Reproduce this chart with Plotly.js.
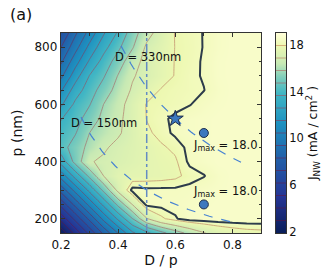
<!DOCTYPE html>
<html><head><meta charset="utf-8">
<script src="https://cdn.plot.ly/plotly-3.0.1.min.js"></script>
<style>html,body{margin:0;padding:0;background:#fff}#chart{width:332px;height:275px}</style>
</head><body><div id="chart"></div>
<script>
// D/p ratio (x) and period p in nm (y)
const DP = [0.2,0.25,0.3,0.35,0.4,0.45,0.5,0.55,0.6,0.65,0.7,0.75,0.8,0.85,0.9];
const P  = [150,200,250,300,350,400,450,500,550,600,650,700,750,800,850];
// J_NW (mA/cm^2) per row of p
const J_p150 = [2.2,4.4,6.5,8.6,10.5,12.4,13.4,14.4,15.3,16.1,16.8,17.3,17.55,17.7,17.75];
const J_p200 = [4.4,6.5,8.6,10.8,12.8,14.7,16.8,17.8,18.25,18.55,18.6,18.6,18.6,18.6,18.6];
const J_p250 = [6.5,8.65,10.8,12.9,15.0,16.9,18.45,18.45,18.45,18.5,18.55,18.6,18.6,18.6,18.6];
const J_p300 = [8.7,10.8,12.9,15.0,17.15,18.45,18.4,18.4,18.4,18.45,18.5,18.55,18.6,18.6,18.6];
const J_p350 = [10.9,13.0,15.0,16.9,17.5,17.6,17.65,17.7,17.8,18.1,18.28,18.5,18.6,18.6,18.6];
const J_p400 = [13.0,15.1,16.8,17.0,17.2,17.4,17.6,17.75,17.85,18.4,18.5,18.6,18.6,18.6,18.6];
const J_p450 = [14.3,15.2,16.1,16.74,17.1,17.35,17.6,17.85,18.05,18.45,18.55,18.6,18.6,18.6,18.6];
const J_p500 = [14.0,14.65,15.8,16.28,16.74,17.27,17.82,18.1,18.4,18.5,18.55,18.6,18.6,18.6,18.6];
const J_p550 = [13.6,14.3,15.21,16.09,16.65,17.29,17.95,18.2,18.4,18.5,18.55,18.6,18.6,18.6,18.6];
const J_p600 = [12.4,13.9,14.67,15.82,16.52,17.27,17.98,18.05,18.15,18.28,18.45,18.55,18.6,18.6,18.6];
const J_p650 = [11.4,13.1,14.23,15.22,16.22,16.98,17.57,17.98,18.1,18.2,18.29,18.5,18.6,18.6,18.6];
const J_p700 = [10.2,12.1,13.7,14.64,15.85,16.77,17.21,17.6,17.97,18.22,18.33,18.55,18.6,18.6,18.6];
const J_p750 = [9.2,11.08,12.74,14.09,15.23,16.49,17.16,17.6,17.96,18.15,18.35,18.55,18.6,18.6,18.6];
const J_p800 = [8.3,10.05,11.83,13.3,14.5,15.7,17.05,17.5,17.95,18.12,18.32,18.5,18.6,18.6,18.6];
const J_p850 = [7.3,9.2,10.85,12.5,13.8,15.3,16.5,17.3,17.97,18.15,18.32,18.5,18.6,18.6,18.6];

const J_MIN = 1.9, J_MAX = 19.0, LEVEL_STEP = 1.06875;
const OPT_LEVEL = 18.3;              // thick contour
const CB_TICKS = [2,6,10,14,18];

const D_VALUES = [150, 330];          // constant-D curves (nm)
const D_RATIO_START = [0.27, 0.41];
const D_RATIO_END = [0.82, 0.83];
const VLINE_X = [0.5];

const STAR_X = [0.6], STAR_P = [550];
const DOT_X = [0.7, 0.7], DOT_P = [500, 250];
const DOT_LABELS = ['J<sub>max</sub> = 18.0', 'J<sub>max</sub> = 18.0'];
const DOT_LABEL_X = [0.775, 0.775], DOT_LABEL_P = [457, 296];
const D_LABELS = ['D = 150nm', 'D = 330nm'];
const D_LABEL_X = [0.351, 0.503], D_LABEL_P = [535, 765];

const Z = [J_p150,J_p200,J_p250,J_p300,J_p350,J_p400,J_p450,J_p500,J_p550,J_p600,J_p650,J_p700,J_p750,J_p800,J_p850];

const cmap = [
  [0,'rgb(8,29,88)'],[0.18,'rgb(37,52,148)'],[0.37,'rgb(34,94,168)'],
  [0.55,'rgb(29,145,192)'],[0.7,'rgb(65,182,196)'],[0.78,'rgb(127,205,187)'],
  [0.85,'rgb(199,233,180)'],[0.94,'rgb(237,248,177)'],[1,'rgb(255,255,217)']
];
const lineMap = [[0,'rgb(80,20,70)'],[0.45,'rgb(100,50,100)'],[0.75,'rgb(150,100,110)'],[1,'rgb(205,145,100)']];

const F = 'DejaVu Sans, sans-serif';
const traces = [];
traces.push({type:'heatmap', x:DP, y:P, z:Z, zmin:J_MIN, zmax:J_MAX, colorscale:cmap,
  zsmooth:'best', showscale:false, hoverinfo:'skip'});
traces.push({type:'contour', x:DP, y:P, z:Z, zmin:J_MIN, zmax:J_MAX, colorscale:lineMap,
  showscale:false, opacity:0.85, contours:{coloring:'lines', start:J_MIN, end:J_MAX, size:LEVEL_STEP},
  line:{width:0.8, smoothing:0}, hoverinfo:'skip'});
traces.push({type:'contour', x:DP, y:P, z:Z, showscale:false,
  contours:{coloring:'none', start:OPT_LEVEL, end:OPT_LEVEL, size:0.1},
  line:{width:2, color:'rgb(45,60,75)', smoothing:0}, hoverinfo:'skip'});
// constant-D dashed curves
D_VALUES.forEach((D,i)=>{
  const xs=[], ys=[];
  const n=60;
  for(let k=0;k<=n;k++){const r=D_RATIO_START[i]+(D_RATIO_END[i]-D_RATIO_START[i])*k/n; xs.push(r); ys.push(D/r);}
  traces.push({type:'scatter', mode:'lines', x:xs, y:ys, line:{color:'rgb(70,130,210)', width:1.2, dash:'dash'}, hoverinfo:'skip'});
});
traces.push({type:'scatter', mode:'lines', x:[VLINE_X[0],VLINE_X[0]], y:[P[0],P[P.length-1]],
  line:{color:'rgb(100,140,195)', width:1.5, dash:'dashdot'}, hoverinfo:'skip'});
traces.push({type:'scatter', mode:'markers', x:DOT_X, y:DOT_P,
  marker:{symbol:'circle', size:9, color:'rgb(60,120,190)', line:{color:'rgb(30,45,75)', width:1}}});
traces.push({type:'scatter', mode:'markers', x:STAR_X, y:STAR_P,
  marker:{symbol:'star', size:12, color:'rgb(60,120,190)', line:{color:'rgb(30,45,75)', width:1}}});
// colorbar drawn on its own axes
const CB_Y = [J_MIN, J_MAX];
traces.push({type:'heatmap', xaxis:'x2', yaxis:'y2', x:[0,1], y:CB_Y, z:[[J_MIN,J_MIN],[J_MAX,J_MAX]],
  zmin:J_MIN, zmax:J_MAX, colorscale:cmap, zsmooth:'best', showscale:false, hoverinfo:'skip'});
traces.push({type:'contour', xaxis:'x2', yaxis:'y2', x:[0,1], y:CB_Y, z:[[J_MIN,J_MIN],[J_MAX,J_MAX]],
  zmin:J_MIN, zmax:J_MAX, colorscale:lineMap, showscale:false, opacity:0.85,
  contours:{coloring:'lines', start:J_MIN+LEVEL_STEP, end:J_MAX-0.01, size:LEVEL_STEP},
  line:{width:0.8, smoothing:0}, hoverinfo:'skip'});

const W=332, H=275, L=61, R=46, T=33, B=42;
const plotW = W-L-R;
const mainFrac = 200/plotW;
const cbX0 = 215/plotW, cbX1 = 225/plotW;

const annotations = [];
D_LABELS.forEach((t,i)=>annotations.push({x:D_LABEL_X[i], y:D_LABEL_P[i], text:t, showarrow:false, font:{family:F,size:11.5,color:'#111'}}));
DOT_LABELS.forEach((t,i)=>annotations.push({x:DOT_LABEL_X[i], y:DOT_LABEL_P[i], text:t, showarrow:false, font:{family:F,size:11.5,color:'#111'}}));
annotations.push({xref:'paper', yref:'paper', x:(8-L)/plotW, y:1+(T-15)/200, xanchor:'left', yanchor:'middle', text:'(a)', showarrow:false, font:{family:F,size:16,color:'#111'}});

const axBase = {showline:true, linecolor:'#333', linewidth:1.3, mirror:'allticks', ticks:'inside', ticklen:4, tickwidth:1, tickcolor:'#333',
  showgrid:false, zeroline:false, tickfont:{family:F,size:12,color:'#111'}};
const layout = {
  width:W, height:H, margin:{l:L, r:R, t:T, b:B}, paper_bgcolor:'#fff', plot_bgcolor:'#fff', showlegend:false,
  font:{family:F, color:'#111'},
  xaxis: Object.assign({}, axBase, {domain:[0,mainFrac], range:[0.2,0.9], tickvals:[0.2,0.4,0.6,0.8], ticktext:['0.2','0.4','0.6','0.8'],
    minor:{ticks:'inside', ticklen:2.5, dtick:0.1, tick0:0.2, tickcolor:'#333'},
    title:{text:'D / p', font:{family:F,size:14}, standoff:3}}),
  yaxis: Object.assign({}, axBase, {domain:[0,1], range:[150,850], tickvals:[200,400,600,800],
    minor:{ticks:'inside', ticklen:2.5, dtick:50, tick0:150, tickcolor:'#333'},
    title:{text:'p (nm)', font:{family:F,size:14}, standoff:8}}),
  xaxis2: {domain:[cbX0,cbX1], anchor:'y2', range:[0,1], showline:true, mirror:true, linecolor:'#333', linewidth:1,
    showticklabels:false, ticks:'', showgrid:false, zeroline:false, fixedrange:true},
  yaxis2: {domain:[0,1], anchor:'x2', side:'right', range:[J_MIN,J_MAX], tickvals:CB_TICKS, ticks:'', showline:true, mirror:true,
    linecolor:'#333', linewidth:1, showgrid:false, zeroline:false, tickfont:{family:F,size:11.5,color:'#111'},
    title:{text:'J<sub>NW</sub> (mA / cm<sup>2</sup> )', font:{family:F,size:12.5}, standoff:4}},
  annotations: annotations
};
Plotly.newPlot('chart', traces, layout, {displayModeBar:false, staticPlot:true});
</script></body></html>
